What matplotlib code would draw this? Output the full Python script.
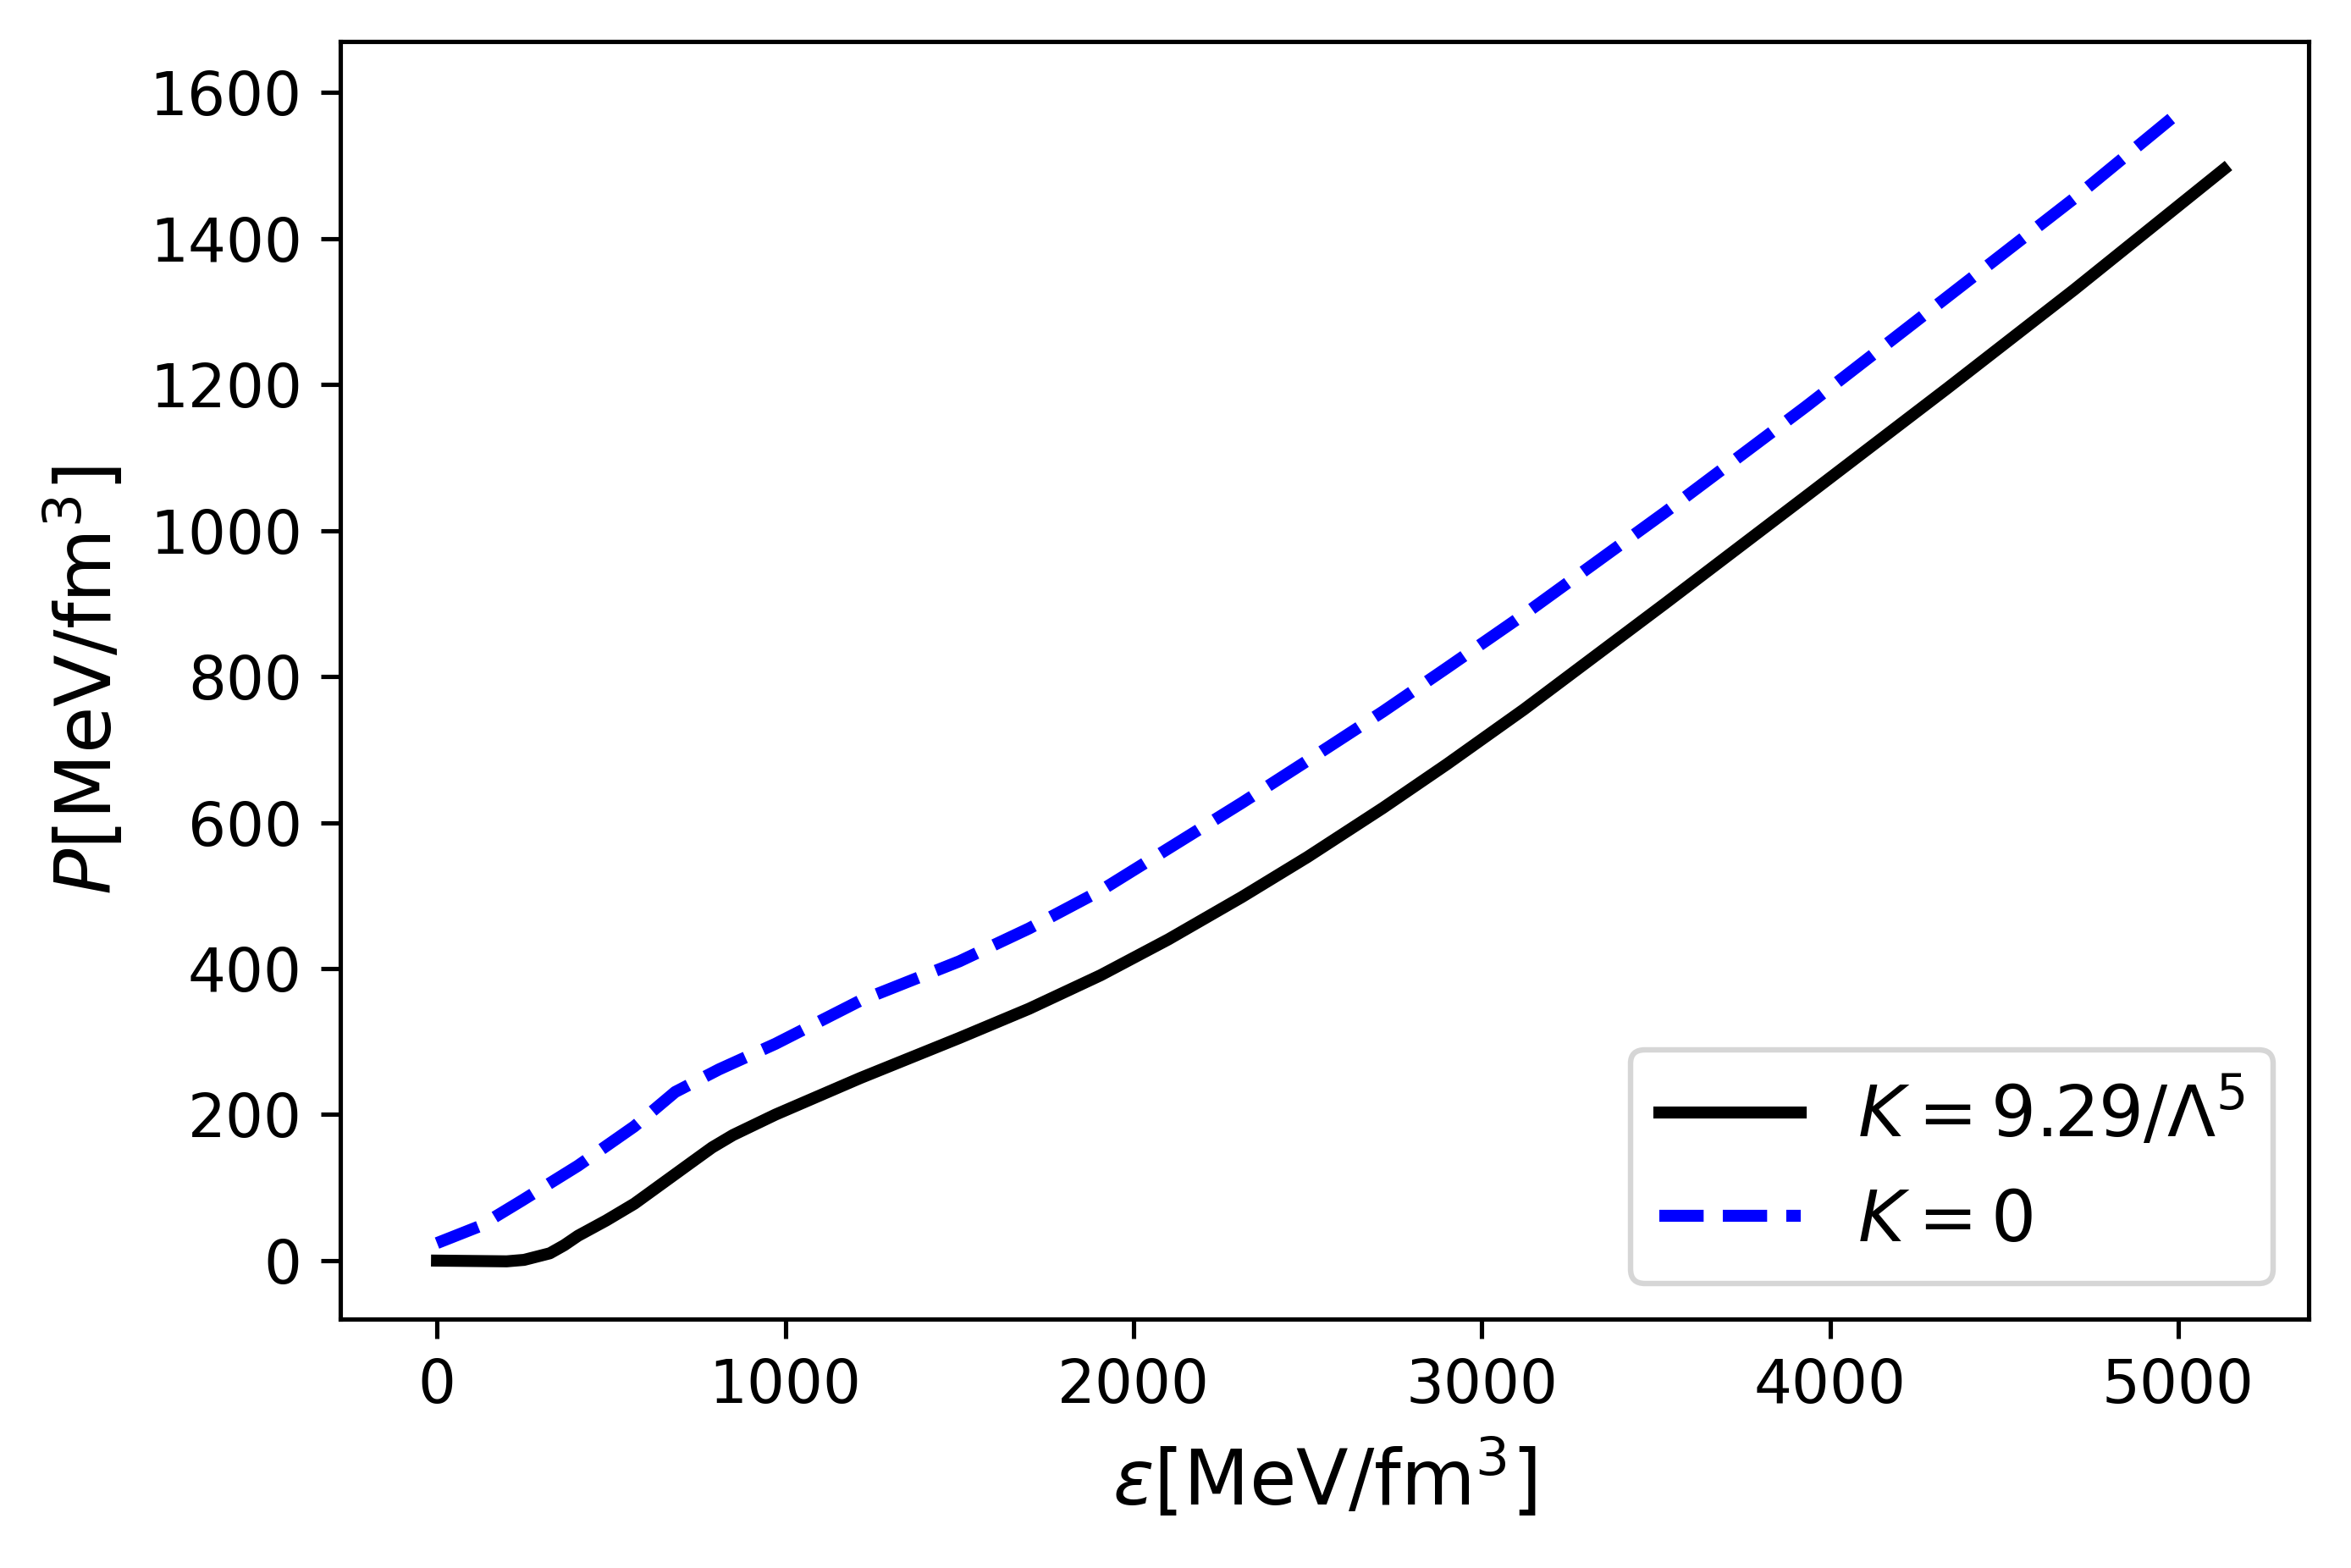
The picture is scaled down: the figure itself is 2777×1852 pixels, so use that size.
import numpy as np
import matplotlib
matplotlib.use('Agg')
import matplotlib.pyplot as plt

# energy density eps and pressure P, both in MeV/fm^3
eps_k = [0, 200, 250, 324, 365, 405, 486, 567, 729, 790, 850, 972, 1215,
         1500, 1700, 1906, 2100, 2311, 2500, 2716, 2900, 3121, 3526, 3931,
         4337, 4701, 5131]
p_k = [0, -1, 1, 10, 21, 34, 55, 78, 134, 155, 172, 200, 250,
       305, 345, 391, 440, 498, 553, 620, 680, 755, 900, 1047,
       1195, 1330, 1495]

eps_0 = [0, 122, 243, 405, 567, 684, 810, 972, 1215, 1500, 1700,
         1906, 2311, 2500, 2716, 2900, 3121, 3526, 3931, 4215, 4701, 5017]
p_0 = [24, 47, 82, 130, 184, 231, 262, 297, 356, 410, 455,
       507, 627, 685, 752, 812, 885, 1025, 1170, 1275, 1455, 1579]

labels = [r'$K=9.29/\Lambda^5$', r'$K=0$']


def main():
    fig, ax = plt.subplots(figsize=(2777 / 463, 1852 / 463), dpi=463)
    fig.subplots_adjust(left=0.1447, right=0.9819, bottom=0.1588, top=0.9735)

    ax.plot(eps_k, p_k, color='black', lw=2.2, label=labels[0])
    ax.plot(eps_0, p_0, color='blue', lw=2.2, ls='--', label=labels[1])

    ax.set_xlim(-278, 5374)
    ax.set_ylim(-80, 1670)
    ax.set_yticks(np.arange(0, 1601, 200))

    ax.set_xlabel(r'$\epsilon$[MeV/fm$^3$]', fontsize=14)
    ax.set_ylabel(r'$P$[MeV/fm$^3$]', fontsize=14)
    ax.tick_params(labelsize=11)
    ax.legend(loc='lower right', fontsize=13)

    fig.savefig('out.png', dpi=463)
    plt.close(fig)


if __name__ == "__main__":
    main()
